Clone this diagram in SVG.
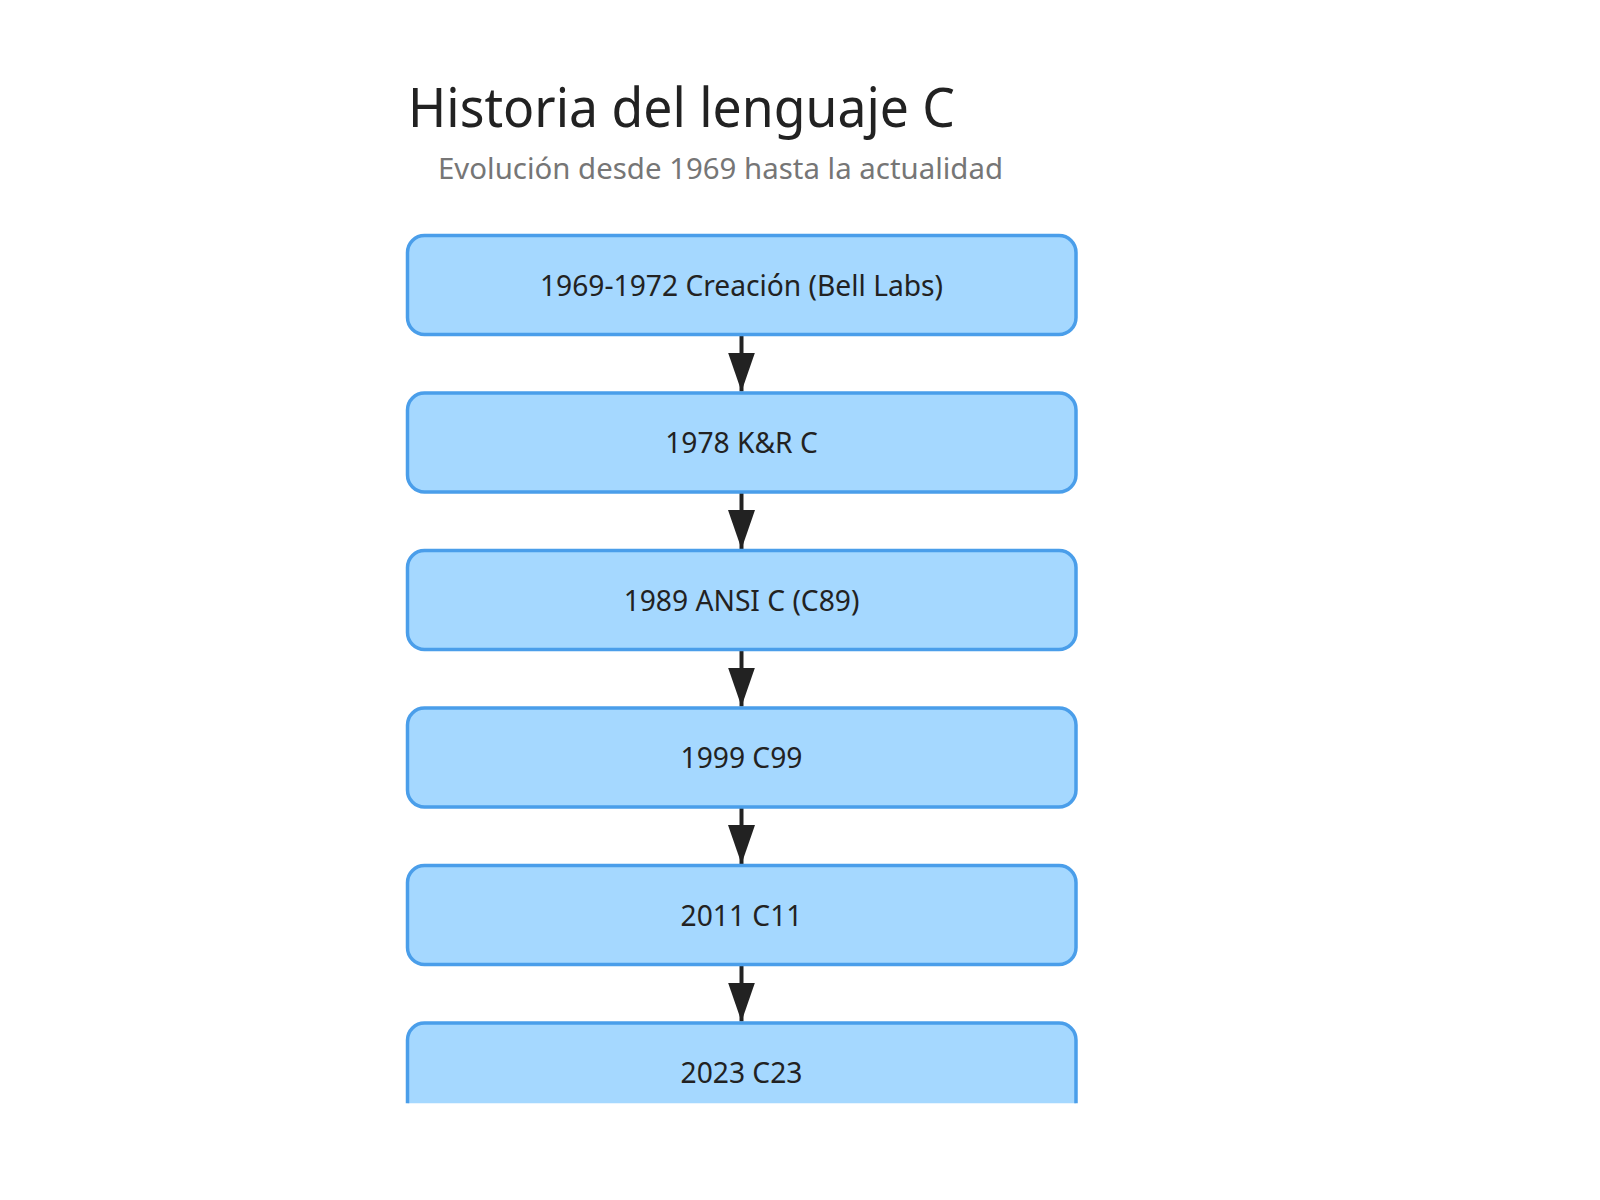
<svg xmlns="http://www.w3.org/2000/svg" width="1600" height="1200" viewBox="0 0 1600 1200">
  <defs>
    <style>
      .node rect { fill: #a5d8ff; stroke: #4a9eea; stroke-width: 3.5; }
      .node text { font-family: "Noto Sans", "Open Sans", "Liberation Sans", sans-serif; font-size: 28.2px; fill: #222222; text-anchor: middle; }
      .edge { stroke: #222222; stroke-width: 4; fill: none; }
      .title { font-family: "Noto Sans", "Open Sans", "Liberation Sans", sans-serif; font-size: 54px; fill: #222222; }
      .subtitle { font-family: "Noto Sans", "Open Sans", "Liberation Sans", sans-serif; font-size: 28.5px; fill: #767676; }
    </style>
    <marker id="arrow" markerUnits="userSpaceOnUse" markerWidth="40" markerHeight="27" refX="39" refY="13.5" orient="auto" viewBox="0 0 40 27">
      <path d="M0,0 L39,13.5 L0,27 Z" fill="#222222"/>
    </marker>
    <clipPath id="page">
      <rect x="0" y="0" width="1600" height="1103.3"/>
    </clipPath>
  </defs>
  <rect x="0" y="0" width="1600" height="1200" fill="#ffffff"/>
  <text class="title" x="408" y="126.7" textLength="547" lengthAdjust="spacingAndGlyphs">Historia del lenguaje C</text>
  <text class="subtitle" x="438" y="179" textLength="565" lengthAdjust="spacingAndGlyphs">Evolución desde 1969 hasta la actualidad</text>
  <g clip-path="url(#page)">
    <g id="connectors">
      <line class="edge" x1="741.5" y1="334.5" x2="741.5" y2="391.5" marker-end="url(#arrow)"/>
      <line class="edge" x1="741.5" y1="492" x2="741.5" y2="549" marker-end="url(#arrow)"/>
      <line class="edge" x1="741.5" y1="649.5" x2="741.5" y2="706.5" marker-end="url(#arrow)"/>
      <line class="edge" x1="741.5" y1="807" x2="741.5" y2="864" marker-end="url(#arrow)"/>
      <line class="edge" x1="741.5" y1="964.5" x2="741.5" y2="1021.5" marker-end="url(#arrow)"/>
    </g>
    <g id="n1" class="node">
      <rect x="407.5" y="235.5" width="668.5" height="99" rx="17" ry="17"/>
      <text x="741.5" y="295.5">1969-1972 Creación (Bell Labs)</text>
    </g>
    <g id="n2" class="node">
      <rect x="407.5" y="393" width="668.5" height="99" rx="17" ry="17"/>
      <text x="741.5" y="453">1978 K&amp;R C</text>
    </g>
    <g id="n3" class="node">
      <rect x="407.5" y="550.5" width="668.5" height="99" rx="17" ry="17"/>
      <text x="741.5" y="610.5">1989 ANSI C (C89)</text>
    </g>
    <g id="n4" class="node">
      <rect x="407.5" y="708" width="668.5" height="99" rx="17" ry="17"/>
      <text x="741.5" y="768">1999 C99</text>
    </g>
    <g id="n5" class="node">
      <rect x="407.5" y="865.5" width="668.5" height="99" rx="17" ry="17"/>
      <text x="741.5" y="925.5">2011 C11</text>
    </g>
    <g id="n6" class="node">
      <rect x="407.5" y="1023" width="668.5" height="99" rx="17" ry="17"/>
      <text x="741.5" y="1083">2023 C23</text>
    </g>
  </g>
</svg>
